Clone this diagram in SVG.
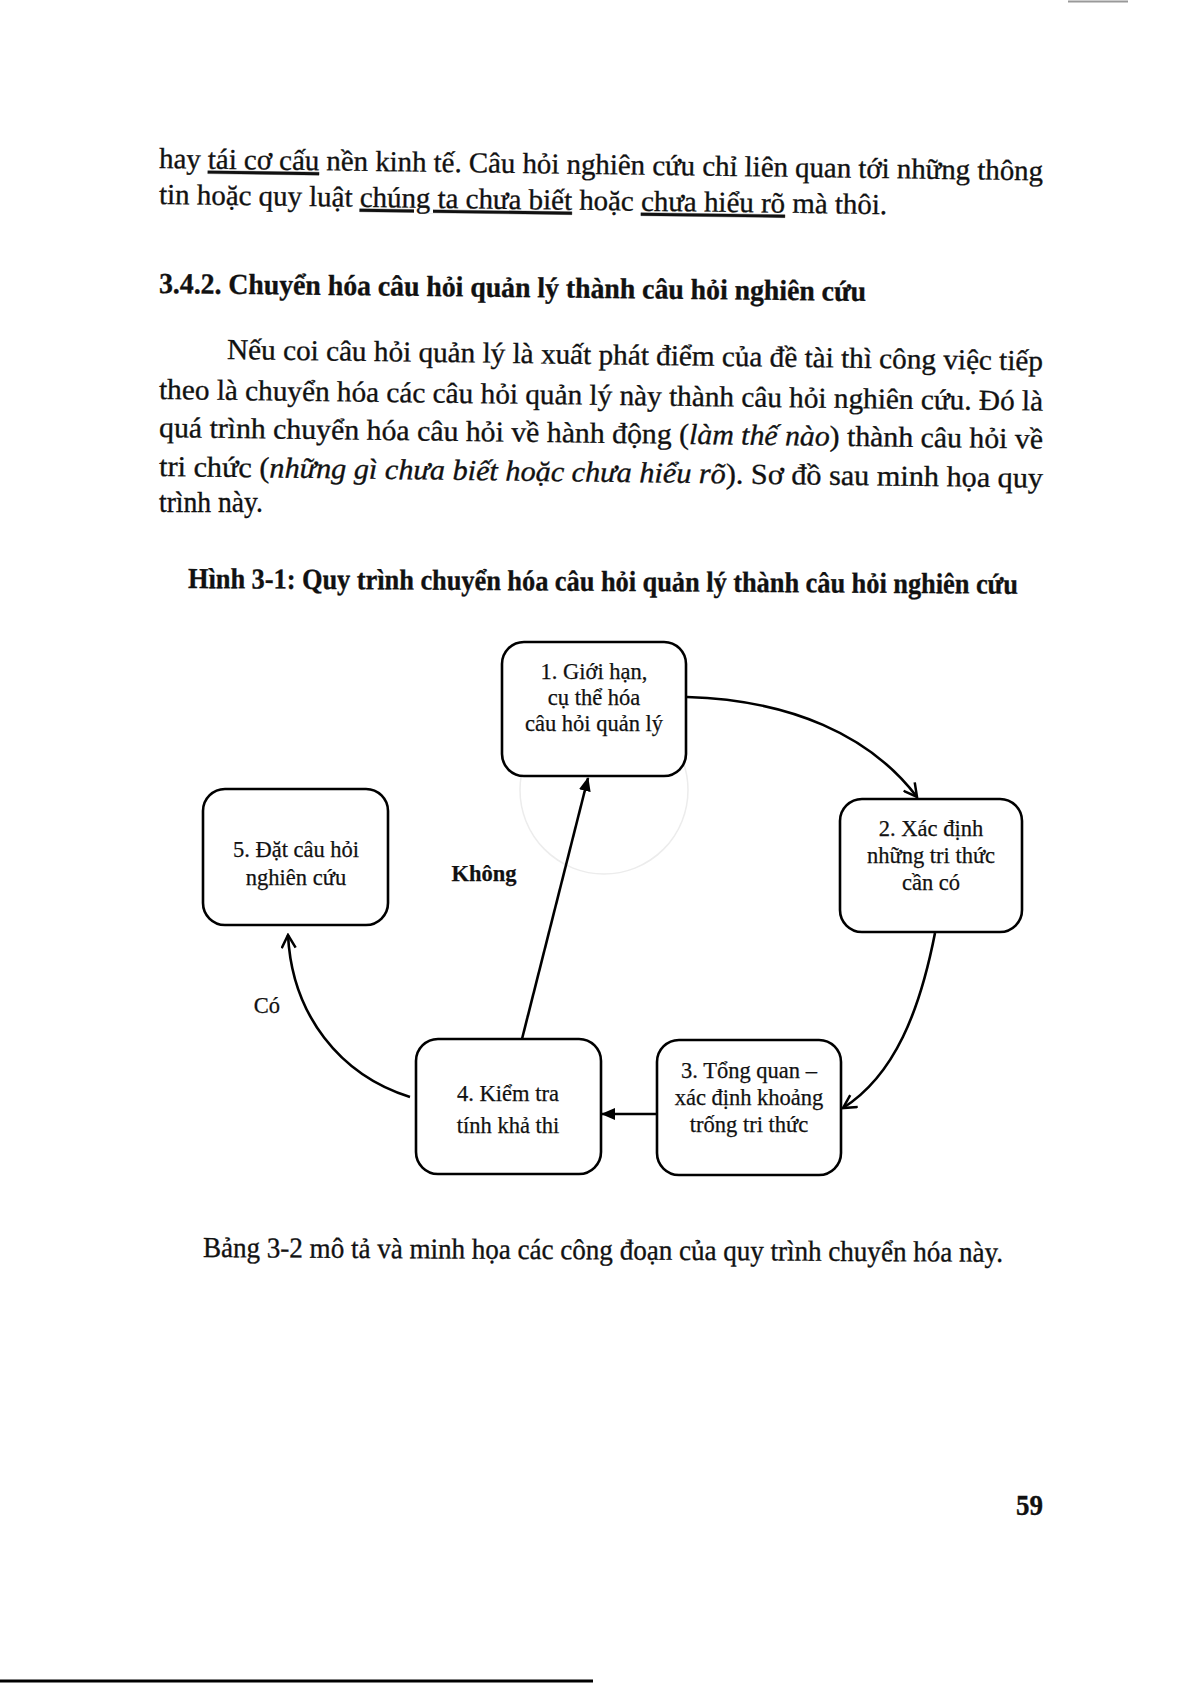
<svg xmlns="http://www.w3.org/2000/svg" width="1191" height="1685" viewBox="0 0 1191 1685">
<style>
.body{font-family:"Liberation Serif","Times New Roman",serif;font-size:29px;fill:#111;stroke:#111;stroke-width:0.35}
.bold{font-weight:bold}
.it{font-style:italic}
.ul{text-decoration:underline}
.box{fill:#fff;stroke:#000;stroke-width:2.6}
.bt{font-family:"Liberation Serif","Times New Roman",serif;font-size:22.5px;fill:#111;stroke:#111;stroke-width:0.25;text-anchor:middle}
.conn{fill:none;stroke:#000;stroke-width:2.6}
</style>
<defs>
<marker id="open" viewBox="0 0 16 16" refX="14" refY="8" markerWidth="16" markerHeight="16" markerUnits="userSpaceOnUse" orient="auto">
<path d="M1,1 L14,8 L1,15" fill="none" stroke="#000" stroke-width="2.5"/>
</marker>
<marker id="solid" viewBox="0 0 14 12" refX="13" refY="6" markerWidth="14" markerHeight="12" markerUnits="userSpaceOnUse" orient="auto">
<path d="M0,0 L14,6 L0,12 z" fill="#000"/>
</marker>
</defs>
<rect width="1191" height="1685" fill="#fff"/>
<line x1="1068" y1="1.5" x2="1128" y2="1.5" stroke="#999" stroke-width="2"/>

<g id="page-text">
<text class="body" x="159" y="168" textLength="884" lengthAdjust="spacingAndGlyphs" transform="rotate(0.8 159 168)">hay <tspan class="ul">tái cơ cấu</tspan> nền kinh tế. Câu hỏi nghiên cứu chỉ liên quan tới những thông</text>
<text class="body" x="159" y="204" textLength="728" lengthAdjust="spacingAndGlyphs" transform="rotate(0.8 159 204)">tin hoặc quy luật <tspan class="ul">chúng ta chưa biết</tspan> hoặc <tspan class="ul">chưa hiểu rõ</tspan> mà thôi.</text>
<text class="body bold" x="159" y="293" textLength="707" lengthAdjust="spacingAndGlyphs" transform="rotate(0.65 159 293)">3.4.2. Chuyển hóa câu hỏi quản lý thành câu hỏi nghiên cứu</text>
<text class="body" x="227" y="359" textLength="816" lengthAdjust="spacingAndGlyphs" transform="rotate(0.8 227 359)">Nếu coi câu hỏi quản lý là xuất phát điểm của đề tài thì công việc tiếp</text>
<text class="body" x="159" y="399" textLength="884" lengthAdjust="spacingAndGlyphs" transform="rotate(0.75 159 399)">theo là chuyển hóa các câu hỏi quản lý này thành câu hỏi nghiên cứu. Đó là</text>
<text class="body" x="159" y="437" textLength="884" lengthAdjust="spacingAndGlyphs" transform="rotate(0.75 159 437)">quá trình chuyển hóa câu hỏi về hành động (<tspan class="it">làm thế nào</tspan>) thành câu hỏi về</text>
<text class="body" x="159" y="476" textLength="884" lengthAdjust="spacingAndGlyphs" transform="rotate(0.75 159 476)">tri chức (<tspan class="it">những gì chưa biết hoặc chưa hiểu rõ</tspan>). Sơ đồ sau minh họa quy</text>
<text class="body" x="159" y="512" textLength="104" lengthAdjust="spacingAndGlyphs">trình này.</text>
<text class="body bold" x="188" y="588" font-size="27" textLength="830" lengthAdjust="spacingAndGlyphs" transform="rotate(0.4 188 588)">Hình 3-1: Quy trình chuyển hóa câu hỏi quản lý thành câu hỏi nghiên cứu</text>
<text class="body" x="203" y="1257" font-size="27" textLength="800" lengthAdjust="spacingAndGlyphs" transform="rotate(0.35 203 1257)">Bảng 3-2 mô tả và minh họa các công đoạn của quy trình chuyển hóa này.</text>
<text class="body bold" x="1016" y="1515" font-size="27" textLength="27" lengthAdjust="spacingAndGlyphs">59</text>
</g>

<circle cx="604" cy="790" r="84" fill="none" stroke="#ececec" stroke-width="1.5"/>

<g id="connectors">
<path class="conn" d="M687,697 C790,700 870,735 917,797" marker-end="url(#open)"/>
<path class="conn" d="M935,933 C920,1010 895,1075 843,1108" marker-end="url(#open)"/>
<path class="conn" d="M657,1114 L602,1114" marker-end="url(#solid)"/>
<path class="conn" d="M522,1039 L588,778" marker-end="url(#solid)"/>
<path class="conn" d="M410,1097 C340,1075 292,1015 288,935" marker-end="url(#open)"/>
</g>

<g id="node1">
<rect class="box" x="502" y="642" width="184" height="134" rx="22"/>
<text class="bt" x="594" y="679">1. Giới hạn,</text>
<text class="bt" x="594" y="705">cụ thể hóa</text>
<text class="bt" x="594" y="731">câu hỏi quản lý</text>
</g>
<g id="node2">
<rect class="box" x="840" y="799" width="182" height="133" rx="22"/>
<text class="bt" x="931" y="836">2. Xác định</text>
<text class="bt" x="931" y="863">những tri thức</text>
<text class="bt" x="931" y="890">cần có</text>
</g>
<g id="node3">
<rect class="box" x="657" y="1040" width="184" height="135" rx="22"/>
<text class="bt" x="749" y="1078">3. Tổng quan –</text>
<text class="bt" x="749" y="1105">xác định khoảng</text>
<text class="bt" x="749" y="1132">trống tri thức</text>
</g>
<g id="node4">
<rect class="box" x="416" y="1039" width="185" height="135" rx="22"/>
<text class="bt" x="508" y="1101">4. Kiểm tra</text>
<text class="bt" x="508" y="1133">tính khả thi</text>
</g>
<g id="node5">
<rect class="box" x="203" y="789" width="185" height="136" rx="22"/>
<text class="bt" x="296" y="857">5. Đặt câu hỏi</text>
<text class="bt" x="296" y="885">nghiên cứu</text>
</g>

<g id="labels">
<text class="bt bold" x="484" y="881" font-size="22.5">Không</text>
<text class="bt" x="267" y="1013" font-size="22.5">Có</text>
</g>

<line x1="0" y1="1681" x2="593" y2="1681" stroke="#000" stroke-width="3"/>
</svg>
